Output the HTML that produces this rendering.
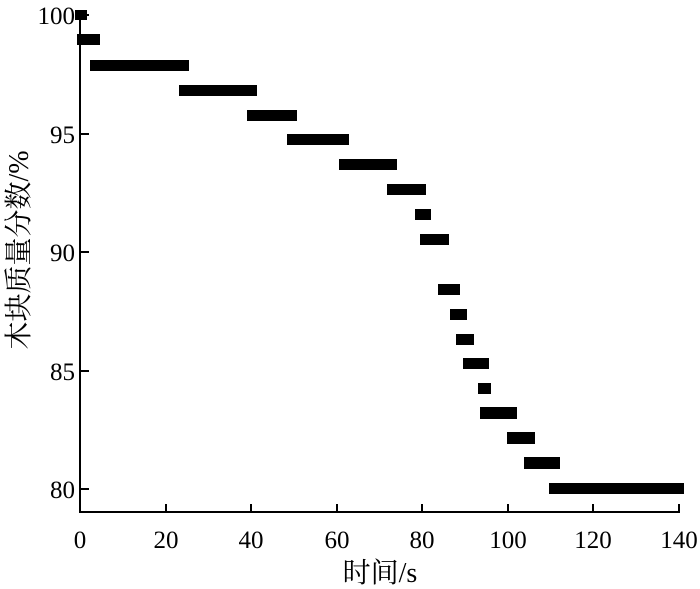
<!DOCTYPE html>
<html><head><meta charset="utf-8"><style>
body{margin:0;background:#fff;}
svg{display:block;font-family:"Liberation Serif","Noto Serif CJK SC",serif;}
</style></head><body>
<svg width="700" height="589" viewBox="0 0 700 589">
<g stroke="#000" stroke-width="2" fill="none">
<line x1="80" y1="12" x2="80" y2="513"/>
<line x1="79" y1="512" x2="680" y2="512"/>
<line x1="166" y1="512" x2="166" y2="504"/>
<line x1="251" y1="512" x2="251" y2="504"/>
<line x1="337" y1="512" x2="337" y2="504"/>
<line x1="422" y1="512" x2="422" y2="504"/>
<line x1="508" y1="512" x2="508" y2="504"/>
<line x1="593" y1="512" x2="593" y2="504"/>
<line x1="679" y1="512" x2="679" y2="504"/>
<line x1="80" y1="15" x2="89" y2="15"/>
<line x1="80" y1="134" x2="89" y2="134"/>
<line x1="80" y1="252" x2="89" y2="252"/>
<line x1="80" y1="371" x2="89" y2="371"/>
<line x1="80" y1="489" x2="89" y2="489"/>
</g>
<g fill="#000">
<rect x="75" y="10" width="12" height="10"/>
<rect x="77" y="34" width="23" height="11"/>
<rect x="90" y="60" width="99" height="11"/>
<rect x="179" y="85" width="78" height="11"/>
<rect x="247" y="110" width="50" height="11"/>
<rect x="287" y="134" width="62" height="11"/>
<rect x="339" y="159" width="58" height="11"/>
<rect x="387" y="184" width="39" height="11"/>
<rect x="415" y="209" width="16" height="11"/>
<rect x="420" y="234" width="29" height="11"/>
<rect x="438" y="284" width="22" height="11"/>
<rect x="450" y="309" width="17" height="11"/>
<rect x="456" y="334" width="18" height="11"/>
<rect x="463" y="358" width="26" height="11"/>
<rect x="478" y="383" width="13" height="11"/>
<rect x="480" y="407" width="37" height="12"/>
<rect x="507" y="432" width="28" height="12"/>
<rect x="524" y="457" width="36" height="12"/>
<rect x="549" y="483" width="135" height="11"/>
</g>
<g font-size="25" fill="#000" text-anchor="end">
<text x="75" y="24">100</text>
<text x="75" y="143">95</text>
<text x="75" y="261">90</text>
<text x="75" y="380">85</text>
<text x="75" y="498">80</text>
</g>
<g font-size="25" fill="#000" text-anchor="middle">
<text x="80" y="548">0</text>
<text x="166" y="548">20</text>
<text x="251" y="548">40</text>
<text x="337" y="548">60</text>
<text x="422" y="548">80</text>
<text x="508" y="548">100</text>
<text x="593" y="548">120</text>
<text x="679" y="548">140</text>
</g>
<g font-size="28" fill="#000" text-anchor="middle">
<text x="380" y="582">时间/s</text>
<text transform="translate(28,250) rotate(-90)">木块质量分数/%</text>
</g>
</svg>
</body></html>
